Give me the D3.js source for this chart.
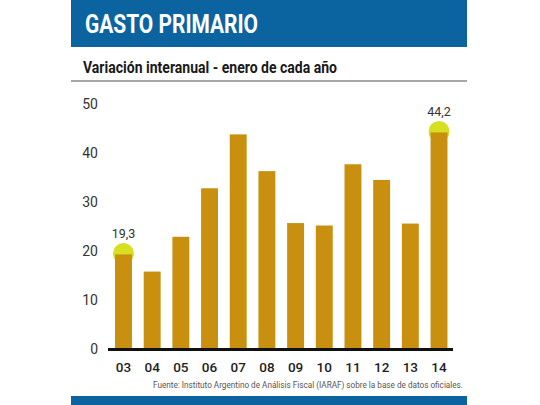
<!DOCTYPE html>
<html lang="es">
<head>
<meta charset="UTF-8"/>
<title>Gasto primario</title>
<style>
  body { margin: 0; background: #ffffff; }
  svg { display: block; }
  text { font-family: "Roboto", "Liberation Sans", sans-serif; }
</style>
</head>
<body>
<svg id="chart" width="540" height="405"></svg>
<script src="https://d3js.org/d3.v7.min.js"></script>
<script>
  // datos
  const years = ["03", "04", "05", "06", "07", "08", "09", "10", "11", "12", "13", "14"];
  const values = [19.3, 15.8, 22.9, 32.8, 43.8, 36.3, 25.7, 25.2, 37.7, 34.5, 25.6, 44.2];
  const yTicks = [0, 10, 20, 30, 40, 50];
  const highlighted = ["03", "14"];

  const svg = d3.select('#chart');
  const blue = '#0b64a0';
  const gold = '#c8900e';

  // titulo
  svg.append('rect')
    .attr('x', 71).attr('y', 0)
    .attr('width', 396).attr('height', 47)
    .attr('fill', blue);

  svg.append('text')
    .attr('x', 85).attr('y', 33)
    .attr('fill', '#ffffff')
    .attr('font-size', 26)
    .attr('font-weight', 'bold')
    .attr('textLength', 173)
    .attr('lengthAdjust', 'spacingAndGlyphs')
    .text('GASTO PRIMARIO');

  svg.append('text')
    .attr('x', 83).attr('y', 73)
    .attr('fill', '#1a1a1a')
    .attr('font-size', 16)
    .attr('font-weight', 'bold')
    .attr('textLength', 254)
    .attr('lengthAdjust', 'spacingAndGlyphs')
    .text('Variación interanual - enero de cada año');

  svg.append('line')
    .attr('x1', 71).attr('x2', 467)
    .attr('y1', 81).attr('y2', 81)
    .attr('stroke', '#888888')
    .attr('stroke-width', 1.5);

  // escalas
  const x = d3.scaleBand()
    .domain(years)
    .range([109, 453.5])
    .paddingInner(0.41)
    .paddingOuter(0.21);

  const y = d3.scaleLinear()
    .domain([0, 50])
    .range([349, 104]);

  // eje y
  svg.append('g')
    .selectAll('text')
    .data(yTicks)
    .join('text')
    .attr('x', 98)
    .attr('y', d => y(d))
    .attr('dy', '0.36em')
    .attr('text-anchor', 'end')
    .attr('font-size', 14)
    .attr('fill', '#333333')
    .text(d => d);

  const data = years.map((yr, i) => ({ year: yr, value: values[i] }));
  const marks = data.filter(d => highlighted.includes(d.year));

  // circulos destacados (detras de las barras)
  svg.append('g')
    .selectAll('circle')
    .data(marks)
    .join('circle')
    .attr('cx', d => x(d.year) + x.bandwidth() / 2)
    .attr('cy', d => y(d.value) - 1)
    .attr('r', 10.5)
    .attr('fill', '#d6df22');

  // barras
  svg.append('g')
    .selectAll('rect')
    .data(data)
    .join('rect')
    .attr('x', d => x(d.year))
    .attr('y', d => y(d.value))
    .attr('width', x.bandwidth())
    .attr('height', d => y(0) - y(d.value))
    .attr('fill', gold);

  // etiquetas de valor
  svg.append('g')
    .selectAll('text')
    .data(marks)
    .join('text')
    .attr('x', d => x(d.year) + x.bandwidth() / 2)
    .attr('y', d => y(d.value) - 16)
    .attr('text-anchor', 'middle')
    .attr('font-size', 12.5)
    .attr('fill', '#333333')
    .text(d => d3.format('.1f')(d.value).replace('.', ','));

  // linea base
  svg.append('line')
    .attr('x1', 108).attr('x2', 453)
    .attr('y1', y(0) + 0.5).attr('y2', y(0) + 0.5)
    .attr('stroke', '#111111')
    .attr('stroke-width', 3);

  // eje x
  svg.append('g')
    .selectAll('text')
    .data(years)
    .join('text')
    .attr('x', d => x(d) + x.bandwidth() / 2)
    .attr('y', 372)
    .attr('text-anchor', 'middle')
    .attr('font-size', 13.5)
    .attr('font-weight', 500)
    .attr('fill', '#1e1e1e')
    .text(d => d);

  // fuente
  svg.append('text')
    .attr('x', 463).attr('y', 388)
    .attr('text-anchor', 'end')
    .attr('font-size', 9)
    .attr('fill', '#555555')
    .attr('textLength', 310)
    .attr('lengthAdjust', 'spacingAndGlyphs')
    .text('Fuente: Instituto Argentino de Análisis Fiscal (IARAF) sobre la base de datos oficiales.');

  svg.append('rect')
    .attr('x', 71).attr('y', 396)
    .attr('width', 396).attr('height', 9)
    .attr('fill', blue);
</script>
</body>
</html>
